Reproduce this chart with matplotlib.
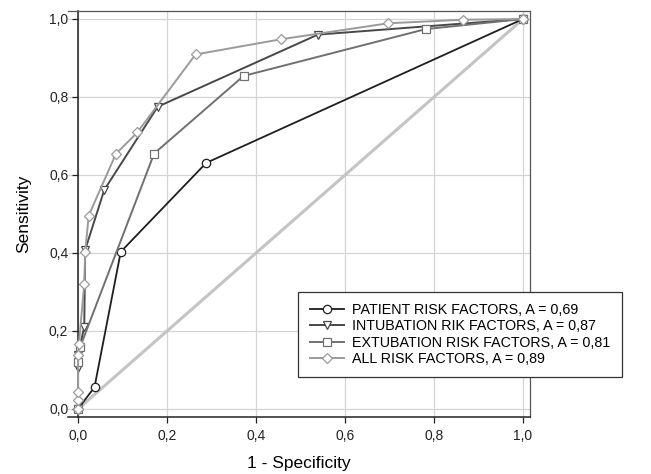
import matplotlib
matplotlib.use("Agg")
import matplotlib.pyplot as plt

plt.rcParams['font.family'] = ['Liberation Sans', 'DejaVu Sans']

# ROC curves
patient_x = [0.0, 0.037, 0.096, 0.288, 1.0]
patient_y = [0.0, 0.056, 0.403, 0.631, 1.0]

intub_x = [0.0, 0.0, 0.0, 0.014, 0.016, 0.059, 0.179, 0.539, 1.0]
intub_y = [0.0, 0.105, 0.138, 0.211, 0.408, 0.562, 0.775, 0.960, 1.0]

extub_x = [0.0, 0.0, 0.005, 0.171, 0.372, 0.781, 1.0]
extub_y = [0.0, 0.121, 0.160, 0.655, 0.854, 0.974, 1.0]

all_x = [0.0, 0.0, 0.0, 0.0, 0.002, 0.014, 0.016, 0.024, 0.085, 0.133, 0.264, 0.456, 0.697, 0.864, 1.0]
all_y = [0.0, 0.023, 0.044, 0.138, 0.167, 0.320, 0.403, 0.496, 0.654, 0.709, 0.909, 0.948, 0.989, 0.998, 1.0]

labels = ['PATIENT RISK FACTORS, A = 0,69',
          'INTUBATION RIK FACTORS, A = 0,87',
          'EXTUBATION RISK FACTORS, A = 0,81',
          'ALL RISK FACTORS, A = 0,89']

ticks = [0.0, 0.2, 0.4, 0.6, 0.8, 1.0]
tick_labels = ['0,0', '0,2', '0,4', '0,6', '0,8', '1,0']

fig = plt.figure(figsize=(6.51, 4.74), dpi=100)
ax = fig.add_axes([0.1045, 0.1203, 0.7097, 0.8565])

ax.plot([0, 1], [0, 1], color='#c4c4c4', lw=2.2, zorder=2)

mk = dict(mfc='white', ms=6, mew=0.9, zorder=3)
ax.plot(patient_x, patient_y, '-o', color='#1e1e1e', lw=1.3, label=labels[0], **mk)
ax.plot(intub_x, intub_y, '-v', color='#484848', lw=1.4, label=labels[1], **mk)
ax.plot(extub_x, extub_y, '-s', color='#707070', lw=1.4, label=labels[2], **mk)
ax.plot(all_x, all_y, '-D', color='#9a9a9a', lw=1.4, label=labels[3],
        mfc='white', ms=5.5, mew=0.9, zorder=3)

ax.set_xlim(-0.0225, 1.0157)
ax.set_ylim(-0.0205, 1.0205)
ax.set_xticks(ticks)
ax.set_xticklabels(tick_labels)
ax.set_yticks(ticks)
ax.set_yticklabels(tick_labels)
ax.grid(True, color='#d4d4d4', lw=0.9, zorder=0)
ax.set_axisbelow(True)

ax.spines['left'].set_position(('data', 0))
for s in ['top', 'right']:
    ax.spines[s].set_color('#555555')
    ax.spines[s].set_linewidth(0.9)
for s in ['left', 'bottom']:
    ax.spines[s].set_color('#222222')
    ax.spines[s].set_linewidth(1.1)
ax.tick_params(direction='out', length=4, width=0.9, labelsize=10, colors='#222222')
ax.tick_params(axis='x', pad=5)
ax.tick_params(axis='y', pad=3)

ax.set_xlabel('1 - Specificity', fontsize=12.5, labelpad=9)
ax.set_ylabel('Sensitivity', fontsize=12.5, labelpad=13)

leg = ax.legend(loc='lower left', bbox_to_anchor=(0.498, 0.098), fontsize=10.3,
                frameon=True, fancybox=False, edgecolor='#333333', framealpha=1,
                handlelength=2.4, borderpad=0.8, labelspacing=0.15, handletextpad=0.6,
                borderaxespad=0)
leg.get_frame().set_linewidth(0.9)

fig.savefig('out.png', dpi=100)
